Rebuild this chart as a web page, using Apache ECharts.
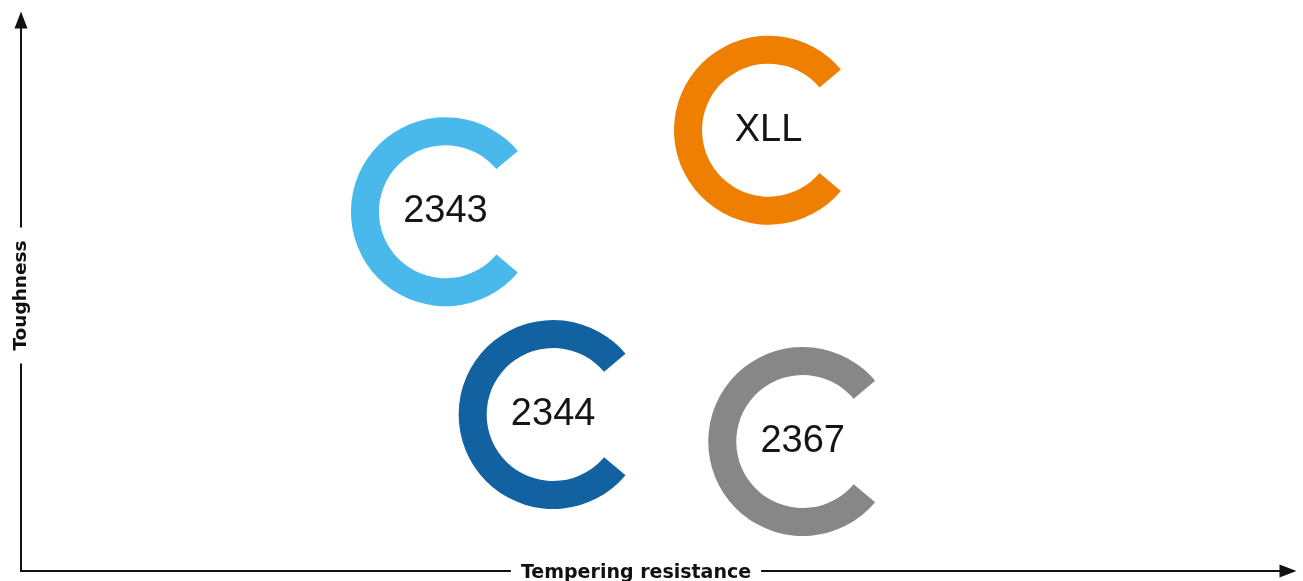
<!DOCTYPE html>
<html>
<head>
<meta charset="utf-8">
<style>
  html, body { margin: 0; padding: 0; background: #fff; }
  #chart { width: 1303px; height: 581px; }
</style>
<script src="https://cdn.jsdelivr.net/npm/echarts@6/dist/echarts.min.js"></script>
</head>
<body>
<div id="chart"></div>
<script>
// ---- data ----
const grades = ['2343', 'XLL', '2344', '2367'];
const temperingResistance = [33.5, 59.0, 42.0, 61.7];   // x
const toughness = [65.2, 80.0, 28.4, 23.5];            // y
const gradeColors = ['#48b9ea', '#ef7f00', '#1262a1', '#878787'];
const xAxisTitle = 'Tempering resistance';
const yAxisTitle = 'Toughness';

const points = grades.map((g, i) => [temperingResistance[i], toughness[i], g]);

const OUTER_R = 94.5;
const INNER_R = 66.5;
const GAP = 40 * Math.PI / 180;
const titleFont = '"DejaVu Sans", sans-serif';

const baseAxis = {
  type: 'value', min: 0, max: 100,
  splitLine: { show: false }, axisTick: { show: false }, axisLabel: { show: false }
};
const lineAxis = Object.assign({}, baseAxis, {
  axisLine: { show: true, onZero: false, symbol: ['none', 'triangle'], symbolSize: [13, 17],
    lineStyle: { color: '#111', width: 2 } }
});
const titleStyle = {
  fontFamily: titleFont, fontWeight: 'bold', fontSize: 19, color: '#111',
  verticalAlign: 'middle'
};

const chart = echarts.init(document.getElementById('chart'));
chart.setOption({
  animation: false,
  backgroundColor: '#fff',
  grid: { left: 21, right: 15, top: 20, bottom: 10, containLabel: false, outerBoundsMode: 'none' },
  xAxis: [
    Object.assign({}, lineAxis, { position: 'bottom', z: 1 }),
    Object.assign({}, baseAxis, {
      position: 'bottom', offset: 0, z: 5,
      axisLine: { show: false, onZero: false },
      name: '{t|' + xAxisTitle + '}{s|}',
      nameLocation: 'middle', nameGap: 2,
      nameTextStyle: Object.assign({}, titleStyle, {
        rich: {
          t: Object.assign({}, titleStyle, { backgroundColor: '#fff', padding: [3, 10, 3, 10] }),
          s: { width: 37, fontSize: 19 }
        }
      })
    })
  ],
  yAxis: [
    Object.assign({}, lineAxis, { position: 'left', z: 1 }),
    Object.assign({}, baseAxis, {
      position: 'left', offset: 0, z: 5,
      axisLine: { show: false, onZero: false },
      name: yAxisTitle,
      nameLocation: 'middle', nameGap: 0, nameRotate: 90,
      nameTextStyle: Object.assign({}, titleStyle, {
        fontSize: 18.5, align: 'center', backgroundColor: '#fff', padding: [3, 13, 3, 13]
      })
    })
  ],
  series: [{
    type: 'custom',
    coordinateSystem: 'cartesian2d',
    xAxisIndex: 0,
    yAxisIndex: 0,
    data: points,
    encode: { x: 0, y: 1 },
    renderItem: function (params, api) {
      const c = api.coord([api.value(0), api.value(1)]);
      const idx = params.dataIndex;
      return {
        type: 'group',
        children: [
          {
            type: 'sector',
            shape: { cx: c[0], cy: c[1], r0: INNER_R, r: OUTER_R,
                     startAngle: GAP, endAngle: 2 * Math.PI - GAP, clockwise: true },
            style: { fill: gradeColors[idx] }
          },
          {
            type: 'text',
            x: c[0], y: c[1],
            style: {
              text: grades[idx],
              fontFamily: '"Liberation Sans", Arial, sans-serif',
              fontSize: 38,
              fill: '#151515',
              align: 'center',
              verticalAlign: 'middle'
            }
          }
        ]
      };
    }
  }]
});
</script>
</body>
</html>
